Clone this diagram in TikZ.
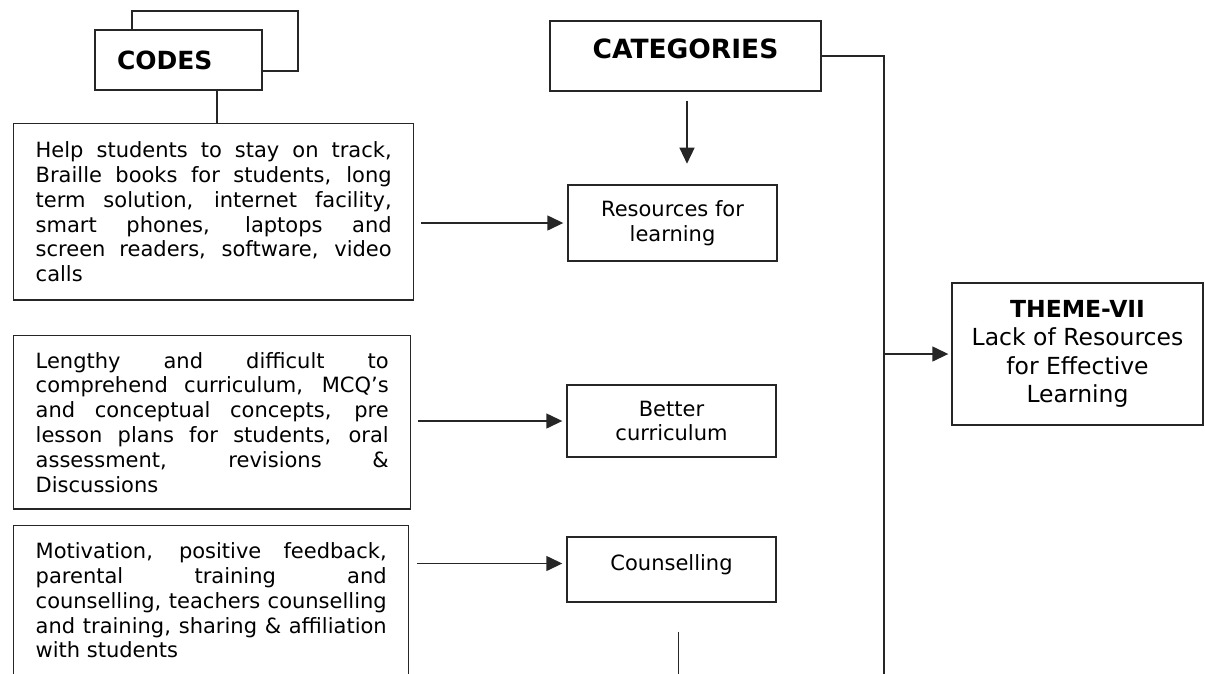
\documentclass[tikz,border=0pt]{standalone}
\usepackage{fontspec}
\setmainfont{DejaVu Sans}
\usetikzlibrary{arrows.meta}
\tolerance=10000
\hbadness=10000
\hyphenpenalty=10000

\tikzset{
  box/.style={draw=black!85, line width=1.4pt, fill=white},
  link/.style={draw=black!85, line width=1.4pt},
  arr/.style={link, -{Triangle[length=16pt,width=15pt]}, shorten >=4pt},
  codebox/.style={box, anchor=north west, inner xsep=22pt, inner ysep=18pt, align=justify,
    font=\fontsize{21}{24.8}\selectfont},
  catbox/.style={box, minimum width=209pt, align=center, font=\fontsize{21}{24.8}\selectfont},
  headbox/.style={box, font=\bfseries\fontsize{25}{30}\selectfont}
}

\begin{document}
\begin{tikzpicture}[x=1pt, y=-1pt]
  \useasboundingbox (0,0) rectangle (1205,673);

  % codes column
  \draw[link] (132,11) rectangle (298,71);
  \node[headbox, minimum height=60pt, text width=123pt, inner xsep=22pt, align=left] (codes) at (178.5,60) {CODES};

  \node[codebox, text width=356pt] (help) at (13,123)
    {Help students to stay on track,\linebreak Braille books for students, long\linebreak term solution, internet facility,\linebreak smart phones, laptops and\linebreak screen readers, software, video\linebreak calls};
  \node[codebox, text width=353pt, inner ysep=16.5pt] (lessons) at (13,335)
    {Lengthy and difficult to\linebreak comprehend curriculum, MCQ’s\linebreak and conceptual concepts, pre\linebreak lesson plans for students, oral\linebreak assessment, revisions \&\linebreak Discussions};
  \node[codebox, text width=351pt, inner ysep=17pt] (support) at (13,525)
    {Motivation, positive feedback,\linebreak parental training and\linebreak counselling, teachers counselling\linebreak and training, sharing \& affiliation\linebreak with students};

  \draw[link] ([xshift=38.5pt]codes.south) -- ([xshift=38.5pt]codes.south |- help.north);

  % categories column
  \node[headbox, minimum width=271pt, minimum height=70pt, text depth=14pt,
    font=\bfseries\fontsize{26.5}{30}\selectfont] (cats) at (685.5,56) {CATEGORIES};
  \node[catbox, minimum height=76pt] (res) at (672.5,223) {Resources for\\learning};
  \node[catbox, minimum height=72pt] (better) at (671.5,421) {Better\\curriculum};
  \node[catbox, minimum height=65pt, text depth=13pt] (couns) at (671.5,569.5) {Counselling};

  \draw[arr] ([xshift=1.5pt,yshift=-9pt]cats.south) -- ++(0,67);
  \draw[arr] ([xshift=7pt]help.east |- res.west) -- (res.west);
  \draw[arr] ([xshift=7pt]lessons.east |- better.west) -- (better.west);
  \draw[arr] ([xshift=8pt,yshift=6pt]support.east |- couns.west) -- ([yshift=6pt]couns.west);
  \draw[link] ([xshift=7pt,yshift=-29pt]couns.south) -- ++(0,70);

  % theme
  \node[box, minimum width=251pt, minimum height=142pt, align=center,
    font=\fontsize{23.5}{28.5}\selectfont] (theme) at (1077.5,354)
    {\textbf{THEME-VII}\\Lack of Resources\\for Effective\\Learning};
  \coordinate (rail) at (884,700);
  \draw[link] (cats.east) -| (rail);
  \draw[arr, shorten >=3pt] (theme.west -| rail) -- (theme.west);
\end{tikzpicture}
\end{document}
